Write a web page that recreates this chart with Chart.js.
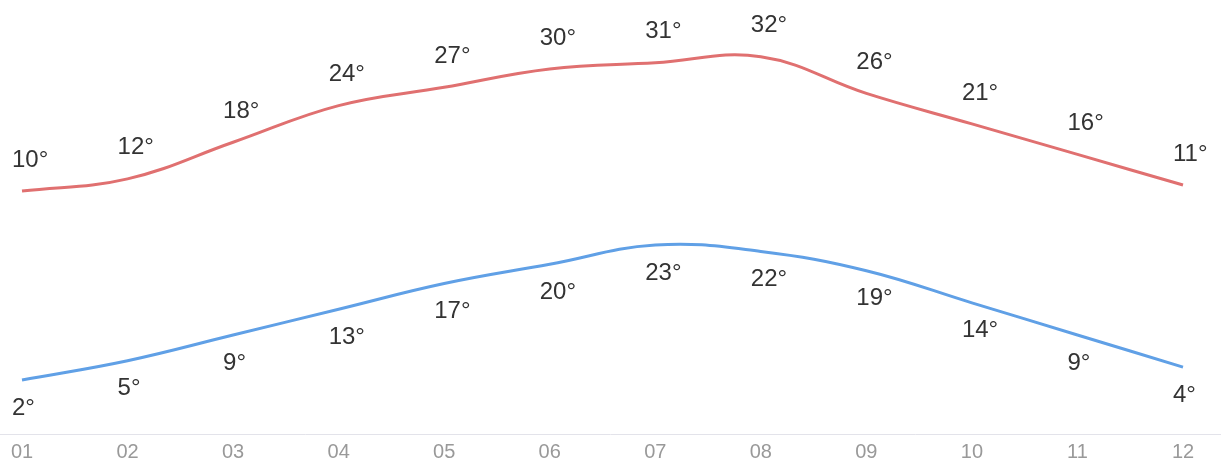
<!DOCTYPE html>
<html>
<head>
<meta charset="utf-8">
<script src="https://cdn.jsdelivr.net/npm/chart.js@4/dist/chart.umd.min.js"></script>
<style>
  html, body { margin: 0; padding: 0; background: #fff; }
  #chart { display: block; }
</style>
</head>
<body>
<canvas id="chart" width="1221" height="473"></canvas>
<script>
const months = ['01', '02', '03', '04', '05', '06', '07', '08', '09', '10', '11', '12'];
const highTemps = [10, 12, 18, 24, 27, 30, 31, 32, 26, 21, 16, 11];
const lowTemps = [2, 5, 9, 13, 17, 20, 23, 22, 19, 14, 9, 4];

// labels above the high line, below the low line
const tempLabels = {
  id: 'tempLabels',
  afterDatasetsDraw(chart) {
    const ctx = chart.ctx;
    ctx.save();
    ctx.font = '24px "Liberation Sans", Arial, sans-serif';
    ctx.fillStyle = '#333';
    ctx.textAlign = 'left';
    ctx.textBaseline = 'middle';
    chart.data.datasets.forEach((ds, i) => {
      const meta = chart.getDatasetMeta(i);
      const dy = i === 0 ? -31 : 28;
      meta.data.forEach((pt, j) => {
        ctx.fillText(ds.data[j] + '°', pt.x - 10, pt.y + dy);
      });
    });
    ctx.restore();
  }
};

// axis line across the whole width
const baseLine = {
  id: 'baseLine',
  beforeDatasetsDraw(chart) {
    const ctx = chart.ctx;
    const y = Math.round(chart.scales.x.top) + 0.5;
    ctx.save();
    ctx.strokeStyle = '#e3e3ea';
    ctx.lineWidth = 1;
    ctx.beginPath();
    ctx.moveTo(0, y);
    ctx.lineTo(chart.width, y);
    ctx.stroke();
    ctx.restore();
  }
};

new Chart(document.getElementById('chart'), {
  type: 'line',
  data: {
    labels: months,
    datasets: [{
      data: highTemps,
      borderColor: '#e07070',
      borderWidth: 3,
      pointRadius: 0,
      tension: 0.4,
      yAxisID: 'y'
    }, {
      data: lowTemps,
      borderColor: '#60a0e6',
      borderWidth: 3,
      pointRadius: 0,
      tension: 0.4,
      yAxisID: 'y2'
    }]
  },
  options: {
    responsive: false,
    animation: false,
    layout: { padding: { left: 22, right: 38, top: 0, bottom: 3 } },
    plugins: {
      legend: { display: false },
      tooltip: { enabled: false }
    },
    scales: {
      x: {
        offset: false,
        grid: { display: false, drawTicks: false },
        border: { display: false },
        ticks: {
          color: '#999',
          padding: 6,
          maxRotation: 0,
          font: { size: 20, family: '"Liberation Sans", Arial, sans-serif' }
        }
      },
      y: {
        display: false,
        min: -29.8,
        max: 41.3
      },
      y2: {
        display: false,
        min: -6.4,
        max: 61.1
      }
    }
  },
  plugins: [tempLabels, baseLine]
});
</script>
</body>
</html>
